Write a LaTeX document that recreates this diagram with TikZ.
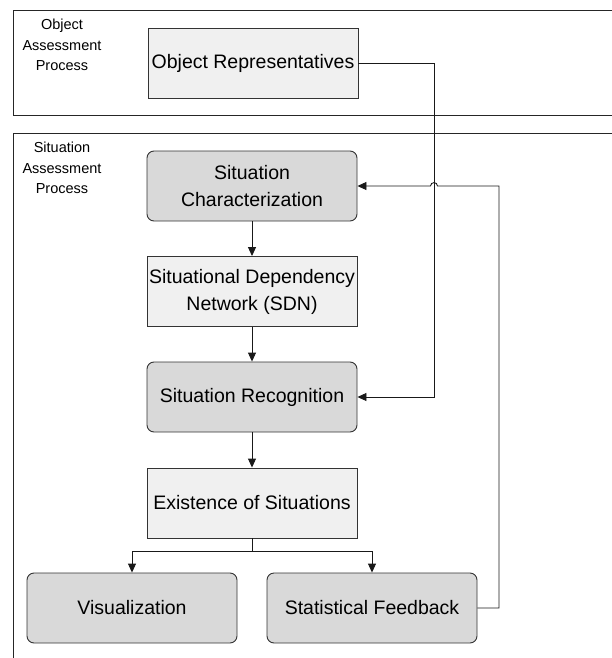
\documentclass[tikz,border=0pt]{standalone}
\usepackage{fontspec}
\setmainfont{Liberation Sans}
\usetikzlibrary{arrows.meta}
\begin{document}
\begin{tikzpicture}[x=1pt,y=-1pt,
  procbox/.style={draw=black!80, line width=0.9pt, minimum width=210pt,
    minimum height=70pt, inner sep=0pt, align=center,
    font=\fontsize{19.5}{27}\selectfont},
  light/.style={procbox, fill=black!6},
  dark/.style={procbox, fill=black!15, rounded corners=7pt},
  region/.style={draw=black!85, line width=0.9pt},
  lbl/.style={align=center, inner sep=0pt, font=\fontsize{14.5}{20.5}\selectfont},
  flow/.style={draw=black!90, line width=0.9pt, -{Triangle[length=9pt,width=8pt]}},
  wire/.style={draw=black!90, line width=0.9pt}
]
\useasboundingbox (0,0) rectangle (612,658);
\clip (0,0) rectangle (612,658);

% process regions (open to the right / bottom)
\draw[region] (620,10) -- (13.5,10) -- (13.5,115) -- (620,115);
\draw[region] (620,133) -- (13.5,133) -- (13.5,670);
\node[lbl] (oap) at (62,45) {Object\\Assessment\\Process};
\node[lbl] (sap) at (62,168) {Situation\\Assessment\\Process};

% boxes
\node[light] (objrep)  at (253,63)    {Object Representatives};
\node[dark]  (sitchar) at (252,186)   {Situation\\Characterization};
\node[light] (sdn)     at (252,291.5) {Situational Dependency\\Network (SDN)};
\node[dark]  (sitrec)  at (252,397)   {Situation Recognition};
\node[light] (exist)   at (252,503)   {Existence of Situations};
\node[dark]  (vis)     at (132,608)   {Visualization};
\node[dark]  (feed)    at (372,608)   {Statistical Feedback};

% main flow
\draw[flow] (sitchar) -- (sdn);
\draw[flow] (sdn) -- (sitrec);
\draw[flow] (sitrec) -- (exist);
\coordinate (split) at (252,551);
\draw[wire] (exist.south) -- (split);
\draw[flow] (split) -| (vis.north);
\draw[flow] (split) -| (feed.north);

% object representatives into recognition
\coordinate (drop) at (434,397);
\draw[flow] (objrep.east) -- (objrep.east -| drop) -- (drop) -- (sitrec.east);

% statistical feedback loop, hopping over the vertical line
\coordinate (fbturn) at (499,608);
\coordinate (fbtop) at (499,186);
\coordinate (hopr) at (437.5,186);
\coordinate (hopl) at (430.5,186);
\draw[flow] (feed.east) -- (fbturn) -- (fbtop) -- (hopr)
  .. controls (437.5,181.5) and (430.5,181.5) .. (hopl) -- (sitchar.east);
\end{tikzpicture}
\end{document}
